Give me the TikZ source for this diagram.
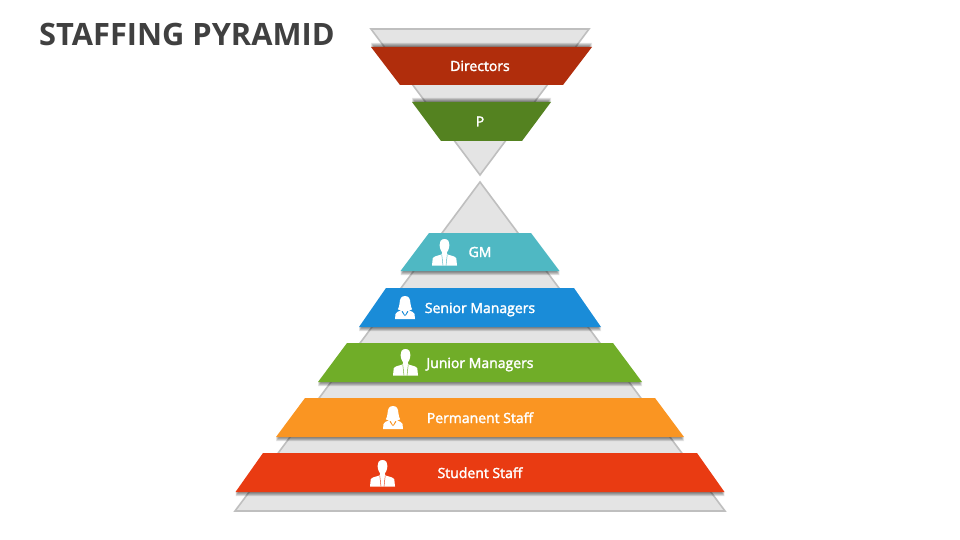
\documentclass[tikz,border=0pt]{standalone}
\usepackage{fontspec}
\setmainfont{Open Sans}
\newfontfamily\labfont{Open Sans}
\newcommand{\semib}[1]{\special{pdf:code q 1 1 1 RG 0.3 w 2 Tr}#1\special{pdf:code 0 Tr Q}}
\usetikzlibrary{calc}
\definecolor{tfill}{HTML}{E4E4E4}
\definecolor{tline}{HTML}{BFBFBF}
\definecolor{cdir}{HTML}{B02D0C}
\definecolor{cp}{HTML}{548220}
\definecolor{cgm}{HTML}{4FB8C3}
\definecolor{csen}{HTML}{1A8CD8}
\definecolor{cjun}{HTML}{70AD28}
\definecolor{cper}{HTML}{FA9522}
\definecolor{cstu}{HTML}{E93B12}
\definecolor{ctitle}{HTML}{404040}
\tikzset{
  tri/.style={fill=tfill,draw=tline,line width=1.6pt,line join=miter},
  lab/.style={text=white,font=\labfont\fontsize{14}{16}\selectfont,inner sep=0pt,anchor=base},
  ttl/.style={text=ctitle,font=\bfseries\fontsize{30.8}{36}\selectfont,inner sep=0pt,anchor=west},
  shad/.style={fill=black,fill opacity=0.13,draw=none},
  pics/band/.style args={#1/#2/#3/#4/#5/#6}{code={
    % top y, bottom y, half top, half bottom, colour, shadow direction
    \foreach \d in {1,2,3,4}{
      \fill[shad] ($(480-#3,#1)+(0,#6*\d)$) -- ($(480+#3,#1)+(0,#6*\d)$) -- ($(480+#4,#2)+(0,#6*\d)$) -- ($(480-#4,#2)+(0,#6*\d)$) -- cycle;
    }
    \fill[#5] (480-#3,#1) -- (480+#3,#1) -- (480+#4,#2) -- (480-#4,#2) -- cycle;
  }},
  pics/male/.style={code={
    \fill[white] (12.5,0) .. controls (8.7,0) and (7.4,3) .. (7.6,6) .. controls (7.8,9.5) and (9.1,12.3) .. (10.1,13.6) -- (9.8,15.4) .. controls (6,16.8) and (1.5,17) .. (0.7,19.5) -- (0,26.5) -- (25,26.5) -- (24.3,19.5) .. controls (23.5,17) and (19,16.8) .. (15.2,15.4) -- (14.9,13.6) .. controls (15.9,12.3) and (17.2,9.5) .. (17.4,6) .. controls (17.6,3) and (16.3,0) .. (12.5,0) -- cycle;
    \draw[cfb,line width=0.45pt] (9.8,16) -- (11,26.5);
    \draw[cfb,line width=0.45pt] (15.2,16) -- (14,26.5);
  }},
  pics/female/.style={code={
    \fill[white] (10,0) .. controls (6,0) and (4.8,3) .. (4.6,7) .. controls (4.4,10) and (3.6,12) .. (2.8,13.4) .. controls (3.6,14.2) and (5,14.4) .. (6,14.4) .. controls (4,15.4) and (1,15.8) .. (0.5,18) -- (0,23) -- (20,23) -- (19.5,18) .. controls (19,15.8) and (16,15.4) .. (14,14.4) .. controls (15,14.4) and (16.4,14.2) .. (17.2,13.4) .. controls (16.4,12) and (15.6,10) .. (15.4,7) .. controls (15.2,3) and (14,0) .. (10,0) -- cycle;
    \fill[cfb] (6.6,15.6) -- (9.6,20) -- (9.8,19) -- (7.6,15) -- cycle;
    \fill[cfb] (13.4,15.6) -- (10.4,20) -- (10.2,19) -- (12.4,15) -- cycle;
  }}
}
\begin{document}
\begin{tikzpicture}[x=1pt,y=-1pt]
\useasboundingbox (0,0) rectangle (960,540);
\fill[white] (0,0) rectangle (960,540);
\node[ttl] (title) at (39,34.5) {STAFFING PYRAMID};

\draw[tri] (371,29) -- (589,29) -- (480,175) -- cycle;
\draw[tri] (480,182) -- (725,511) -- (235,511) -- cycle;

\pic at (1.5,0) {band={47/85/110.5/81.5/cdir/-1}};
\pic at (1.5,0) {band={102/141/69.5/40.5/cp/-1}};
\pic at (0,0) {band={233/271/51/79.5/cgm/1}};
\pic at (0,0) {band={288/327/94/121/csen/1}};
\pic at (0,0) {band={343/382/133/162/cjun/1}};
\pic at (0,0) {band={398/437/175/204/cper/1}};
\pic at (0,0) {band={453/492/217/244.5/cstu/1}};

\node[lab] (directors) at (480,71) {\semib{Directors}};
\node[lab] (p) at (480,126.5) {\semib{P}};
\node[lab] (gm) at (480,257) {\semib{GM}};
\node[lab] (senior) at (480,313) {\semib{Senior Managers}};
\node[lab] (junior) at (480,368) {\semib{Junior Managers}};
\node[lab] (permanent) at (480,423) {\semib{Permanent Staff}};
\node[lab] (student) at (480,478) {\semib{Student Staff}};

\colorlet{cfb}{cgm}
\pic at (432,239) {male};
\colorlet{cfb}{csen}
\pic at (395,296) {female};
\colorlet{cfb}{cjun}
\pic at (393,349) {male};
\colorlet{cfb}{cper}
\pic at (383,406) {female};
\colorlet{cfb}{cstu}
\pic at (370,460) {male};
\end{tikzpicture}
\end{document}
